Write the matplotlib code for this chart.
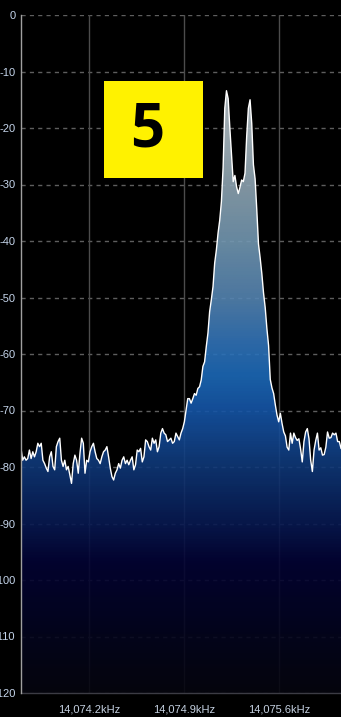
import numpy as np
import matplotlib
matplotlib.use("Agg")
import matplotlib.pyplot as plt
from matplotlib.colors import LinearSegmentedColormap

# ---- data ----
freq_start_khz = 14073.697
freq_end_khz = 14076.055
xtick_khz = [14074.2, 14074.9, 14075.6]
xtick_labels = ["14,074.2kHz", "14,074.9kHz", "14,075.6kHz"]
ytick_db = list(range(0, -121, -10))
ytick_labels = [str(v) for v in ytick_db]

levels_db = [
    -76.7, -78.8, -78.2, -78.8, -78.5, -77.0, -78.5, -77.3, -78.2, -77.3,
    -75.8, -76.4, -75.8, -78.8, -79.4, -80.2, -80.8, -78.2, -77.3, -79.9,
    -80.5, -76.4, -75.5, -74.9, -78.8, -79.9, -78.8, -80.5, -79.9, -81.4,
    -82.9, -79.4, -77.9, -78.8, -81.1, -77.6, -74.9, -75.8, -81.1, -78.8,
    -79.1, -77.3, -76.4, -75.8, -77.3, -78.5, -78.8, -79.4, -78.2, -77.3,
    -77.0, -76.4, -78.2, -80.2, -81.7, -82.3, -81.1, -80.5, -79.4, -80.2,
    -78.8, -78.2, -79.4, -78.8, -79.6, -78.8, -78.2, -80.5, -79.6, -77.0,
    -77.3, -76.7, -79.1, -78.2, -75.2, -75.5, -76.4, -77.0, -74.9, -75.8,
    -75.2, -77.3, -76.4, -74.0, -73.2, -74.0, -74.3, -75.5, -75.2, -74.9,
    -75.8, -75.5, -74.0, -74.6, -75.2,
    -74.0, -73.2, -72.0, -69.9, -67.9, -67.9, -68.7, -67.9, -67.0, -67.3,
    -66.1, -65.8, -64.6, -62.2, -61.4, -58.7, -56.3, -52.5, -50.4, -48.1,
    -43.9, -41.6, -38.6, -36.3, -33.0,
    -27.0, -16.5, -13.4, -14.8, -20.0, -24.8, -29.5, -28.4, -30.4, -31.6,
    -30.5, -29.2, -29.5, -28.0, -21.5, -16.5, -15.0, -19.2, -26.5, -29.0,
    -34.5, -40.5, -43.0, -45.8, -49.2, -51.8, -55.5, -58.5, -64.5, -66.0,
    -67.0, -69.0, -70.8, -72.0, -70.5, -72.3, -73.8, -74.5, -76.5, -77.0,
    -74.0, -75.8, -74.0, -74.8, -75.3, -75.0, -76.8, -79.1, -75.5, -73.8,
    -73.2, -75.0, -78.8, -80.8, -77.0, -75.3, -74.0, -77.0, -76.6, -77.9,
    -77.8, -76.5, -73.8, -74.9, -74.8, -74.0, -74.3, -74.0, -75.5, -75.5,
    -76.7,
]

badge_text = "5"

# gradient stops (level in dB -> colour)
grad_db = [0, -20, -30, -40, -50, -58, -64, -70, -80, -90, -97, -110, -120]
grad_colors = ["#d0d8dc", "#aebcc4", "#8fa5b2", "#7398b2", "#5585b2", "#3274ba",
               "#1c6ab9", "#1656a8", "#0f3878", "#081a52", "#030334", "#04051e",
               "#06060f"]

# ---- figure ----
W, H, DPI = 341, 717, 100
fig = plt.figure(figsize=(W / DPI, H / DPI), dpi=DPI, facecolor="black")
ax = fig.add_axes([21 / W, 1 - 693 / H, (W - 21) / W, (693 - 15) / H])
ax.set_facecolor("black")

freq = np.linspace(freq_start_khz, freq_end_khz, len(levels_db))
lev = np.array(levels_db)

ax.set_xlim(freq_start_khz, freq_end_khz)
ax.set_ylim(-120, 0)

# grid
for yv in ytick_db:
    ax.axhline(yv, color="#5e5e5e", lw=1, ls=(0, (3, 3)), zorder=1)
for xv in xtick_khz:
    ax.axvline(xv, color="#4c4c4c", lw=1, zorder=1)

# gradient fill clipped to spectrum
span = np.array(grad_db)
pos = (span - span.min()) / (span.max() - span.min())
order = np.argsort(pos)
cmap = LinearSegmentedColormap.from_list(
    "spec", [(pos[i], grad_colors[i]) for i in order])
grad = np.linspace(-120, 0, 600).reshape(-1, 1)
img = ax.imshow(grad, extent=[freq_start_khz, freq_end_khz, -120, 0],
                origin="lower", aspect="auto", cmap=cmap, vmin=-120, vmax=0,
                alpha=0.9, zorder=2)
poly = ax.fill_between(freq, lev, -120, facecolor="none", edgecolor="none")
img.set_clip_path(poly.get_paths()[0], transform=ax.transData)

ax.plot(freq, lev, color="white", lw=1.0, zorder=3)

# axes styling
for s in ["top", "right"]:
    ax.spines[s].set_visible(False)
ax.spines["left"].set_color("#a0a0a0")
ax.spines["left"].set_linewidth(1)
ax.spines["bottom"].set_color("#3c3c44")
ax.spines["bottom"].set_linewidth(1)
ax.spines["left"].set_zorder(5)

ax.set_yticks(ytick_db)
ax.set_yticklabels(ytick_labels)
ax.set_xticks(xtick_khz)
ax.set_xticklabels(xtick_labels)
ax.tick_params(axis="y", length=0, pad=4, labelsize=8, labelcolor="#c4d4ea")
ax.tick_params(axis="x", length=0, pad=8, labelsize=8, labelcolor="#c4d0e0")
for t in ax.get_xticklabels() + ax.get_yticklabels():
    t.set_fontfamily("Liberation Sans")

# yellow badge
ax.add_patch(plt.Rectangle((104 / W, 1 - 178 / H), 99 / W, 97 / H,
                           transform=fig.transFigure, facecolor="#fff200",
                           edgecolor="none", zorder=6))
fig.text(147.5 / W, 1 - 131 / H, badge_text, ha="center", va="center",
         fontsize=43, fontweight="bold", family="Open Sans", color="black",
         zorder=7)

fig.savefig("out.png", dpi=DPI, facecolor="black")
